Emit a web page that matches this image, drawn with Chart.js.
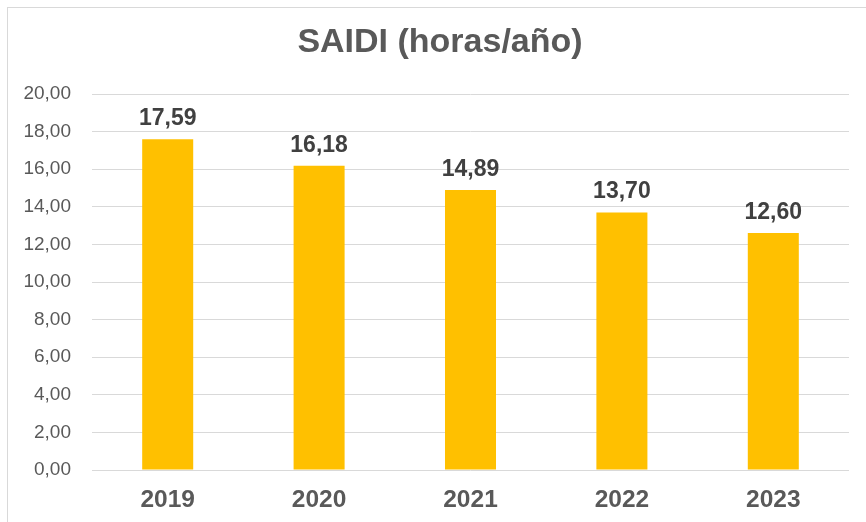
<!DOCTYPE html>
<html>
<head>
<meta charset="utf-8">
<script src="https://cdn.jsdelivr.net/npm/chart.js@4"></script>
<style>
html,body{margin:0;padding:0;background:#fff;}
#wrap{width:866px;height:522px;position:relative;}
</style>
</head>
<body>
<div id="wrap"><canvas id="c" width="866" height="522"></canvas></div>
<script>
const categories = ['2019', '2020', '2021', '2022', '2023'];
const saidiValues = [17.59, 16.18, 14.89, 13.70, 12.60];
const titleText = 'SAIDI (horas/año)';
const yMin = 0, yMax = 20, yStep = 2;

const FONT = '"Liberation Sans", Arial, sans-serif';
const fmt = v => v.toFixed(2).replace('.', ',');

const decor = {
  id: 'decor',
  beforeDraw(chart) {
    const ctx = chart.ctx;
    ctx.save();
    ctx.strokeStyle = '#d9d9d9';
    ctx.lineWidth = 1;
    ctx.strokeRect(7.5, 7.5, 1000, 1000);
    ctx.restore();
  },
  afterDraw(chart) {
    const ctx = chart.ctx;
    ctx.save();
    ctx.fillStyle = '#595959';
    ctx.font = 'bold 34px ' + FONT;
    ctx.textAlign = 'center';
    ctx.textBaseline = 'alphabetic';
    ctx.fillText(titleText, 440, 52);
    const meta = chart.getDatasetMeta(0);
    ctx.fillStyle = '#404040';
    ctx.font = 'bold 23px ' + FONT;
    meta.data.forEach((bar, i) => {
      ctx.fillText(fmt(chart.data.datasets[0].data[i]), bar.x, bar.y - 14);
    });
    ctx.restore();
  }
};

new Chart(document.getElementById('c'), {
  type: 'bar',
  data: {
    labels: categories,
    datasets: [{
      data: saidiValues,
      backgroundColor: '#FFC000',
      borderWidth: 0,
      barPercentage: 0.337,
      categoryPercentage: 1.0
    }]
  },
  options: {
    responsive: false,
    animation: false,
    devicePixelRatio: 1,
    layout: { padding: { left: 0, right: 17, top: 94, bottom: 0 } },
    plugins: { legend: { display: false }, title: { display: false }, tooltip: { enabled: false } },
    scales: {
      x: {
        grid: { display: false, drawTicks: false },
        border: { display: false },
        ticks: { color: '#595959', font: { family: FONT, size: 24.5, weight: 'bold' }, padding: 16 },
        afterFit(s) { s.height = 52; }
      },
      y: {
        min: yMin, max: yMax,
        grid: { color: '#d9d9d9', lineWidth: 1, drawTicks: false },
        border: { display: false },
        ticks: {
          stepSize: yStep,
          color: '#595959',
          font: { family: FONT, size: 19 },
          padding: 21,
          callback: v => fmt(v)
        },
        afterFit(s) { s.width = 92; }
      }
    }
  },
  plugins: [decor]
});
</script>
</body>
</html>
